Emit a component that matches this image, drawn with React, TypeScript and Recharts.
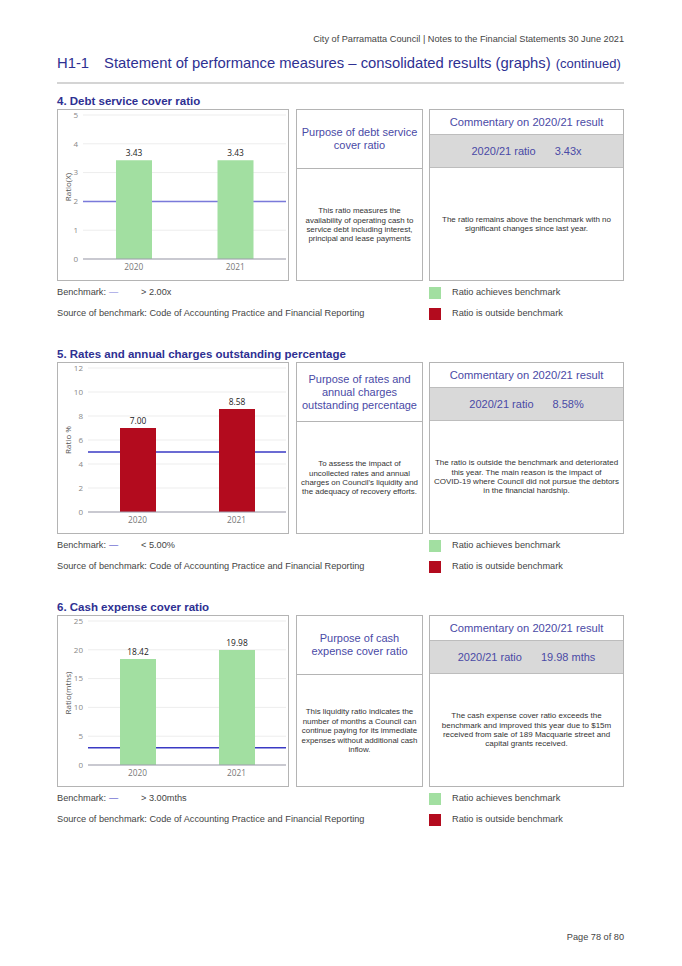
import React from 'react';
import { BarChart, Bar, XAxis, YAxis, CartesianGrid, LabelList } from 'recharts';

const years = ['2020', '2021'];

const debtServiceRatio = [3.43, 3.43];
const ratesOutstandingPct = [7.0, 8.58];
const cashExpenseMonths = [18.42, 19.98];

const debtTicks = [0, 1, 2, 3, 4, 5];
const ratesTicks = [0, 2, 4, 6, 8, 10, 12];
const cashTicks = [0, 5, 10, 15, 20, 25];

const debtBenchmark = 2;
const ratesBenchmark = 5;
const cashBenchmark = 3;

const GREEN = '#a2dfa1';
const RED = '#b30b1e';
const TITLE_BLUE = '#2e3092';
const SOFT_BLUE = '#4a4aa6';
const SANS = '"Liberation Sans", Arial, sans-serif';
const CHART_FONT = '"Open Sans", sans-serif';

const YLabel = (props: any) => {
  const { viewBox, text } = props;
  const x = viewBox.x + 9;
  const y = viewBox.y + viewBox.height / 2;
  return (
    <text
      x={x}
      y={y}
      transform={`rotate(-90 ${x} ${y})`}
      textAnchor="middle"
      dominantBaseline="central"
      fontSize={8}
      fill="#555"
      fontFamily={CHART_FONT}
    >
      {text}
    </text>
  );
};

type SectionProps = {
  top: number;
  title: string;
  values: number[];
  ticks: number[];
  benchmark: number;
  yLabel: string;
  yWidth: number;
  barColor: string;
  lineColor: string;
  purposeTitle: string[];
  purposeText: string[];
  ratioValue: string;
  commentText: string[];
  benchmarkText: string;
};

function Lines({ lines }: { lines: string[] }) {
  return (
    <>
      {lines.map((l, i) => (
        <div key={i}>{l}</div>
      ))}
    </>
  );
}

function Section(p: SectionProps) {
  const data = years.map((year, i) => ({ year, value: p.values[i] }));
  const boxBase: React.CSSProperties = {
    position: 'absolute',
    top: 16,
    height: 172,
    boxSizing: 'border-box',
    border: '1px solid #b4b4b4',
    background: '#fff',
  };
  const center: React.CSSProperties = {
    display: 'flex',
    flexDirection: 'column',
    alignItems: 'center',
    justifyContent: 'center',
    textAlign: 'center',
  };
  const legendText: React.CSSProperties = {
    position: 'absolute',
    fontSize: 9.2,
    lineHeight: '12px',
    color: '#444',
    whiteSpace: 'nowrap',
  };
  return (
    <div style={{ position: 'absolute', left: 0, top: p.top, width: 682, height: 240 }}>
      <div
        style={{
          position: 'absolute',
          left: 57,
          top: 0,
          height: 16,
          lineHeight: '16px',
          fontSize: 11.5,
          fontWeight: 'bold',
          color: TITLE_BLUE,
          whiteSpace: 'nowrap',
        }}
      >
        {p.title}
      </div>

      {/* chart box */}
      <div style={{ ...boxBase, left: 57, width: 232 }}>
        <BarChart width={230} height={170} data={data} margin={{ top: 5, right: 2, bottom: 3, left: 0 }}>
          <CartesianGrid vertical={false} stroke="#ededed" />
          {/* benchmark line drawn under the bars */}
          <CartesianGrid vertical={false} horizontalValues={[p.benchmark]} stroke={p.lineColor} strokeWidth={1.5} />
          <XAxis
            dataKey="year"
            height={18}
            tickLine={false}
            tickSize={0}
            tickMargin={5}
            axisLine={{ stroke: '#9c9cab' }}
            tick={{ fontSize: 8.3, fill: '#777', fontFamily: CHART_FONT }}
          />
          <YAxis
            width={p.yWidth}
            domain={[p.ticks[0], p.ticks[p.ticks.length - 1]]}
            ticks={p.ticks}
            interval={0}
            axisLine={false}
            tickLine={false}
            tickSize={0}
            tickMargin={5}
            tick={{ fontSize: 8, fill: '#888', fontFamily: CHART_FONT }}
            label={<YLabel text={p.yLabel} />}
          />
          <Bar dataKey="value" fill={p.barColor} barSize={36} isAnimationActive={false}>
            <LabelList
              dataKey="value"
              position="top"
              offset={4}
              formatter={(v: any) => Number(v).toFixed(2)}
              fontSize={8.4}
              fill="#222"
              fontFamily={CHART_FONT}
            />
          </Bar>
        </BarChart>
      </div>

      {/* purpose box */}
      <div style={{ ...boxBase, left: 296, width: 127 }}>
        <div
          style={{
            ...center,
            height: 58,
            borderBottom: '1px solid #b4b4b4',
            fontSize: 11,
            lineHeight: '13px',
            color: SOFT_BLUE,
          }}
        >
          <Lines lines={p.purposeTitle} />
        </div>
        <div style={{ ...center, height: 112, fontSize: 7.9, lineHeight: '9.4px', color: '#333' }}>
          <Lines lines={p.purposeText} />
        </div>
      </div>

      {/* commentary box */}
      <div style={{ ...boxBase, left: 429, width: 195 }}>
        <div style={{ ...center, height: 24, fontSize: 11.2, color: SOFT_BLUE }}>Commentary on 2020/21 result</div>
        <div
          style={{
            ...center,
            flexDirection: 'row',
            height: 34,
            background: '#d9d9d9',
            borderTop: '1px solid #bdbdbd',
            borderBottom: '1px solid #bdbdbd',
            boxSizing: 'border-box',
            fontSize: 11,
            color: SOFT_BLUE,
          }}
        >
          <span>2020/21 ratio</span>
          <span style={{ marginLeft: 19 }}>{p.ratioValue}</span>
        </div>
        <div style={{ ...center, height: 112, fontSize: 8, lineHeight: '9.4px', color: '#333' }}>
          <Lines lines={p.commentText} />
        </div>
      </div>

      {/* legend rows */}
      <div style={{ ...legendText, left: 57, top: 193 }}>Benchmark:</div>
      <div style={{ ...legendText, left: 109, top: 193, color: p.lineColor }}>—</div>
      <div style={{ ...legendText, left: 141, top: 193 }}>{p.benchmarkText}</div>
      <div style={{ ...legendText, left: 57, top: 214 }}>
        Source of benchmark: Code of Accounting Practice and Financial Reporting
      </div>
      <div style={{ position: 'absolute', left: 429, top: 194, width: 12, height: 12, background: GREEN }} />
      <div style={{ ...legendText, left: 452, top: 193 }}>Ratio achieves benchmark</div>
      <div style={{ position: 'absolute', left: 429, top: 215, width: 12, height: 12, background: RED }} />
      <div style={{ ...legendText, left: 452, top: 214 }}>Ratio is outside benchmark</div>
    </div>
  );
}

export default function App() {
  return (
    <div
      style={{
        position: 'absolute',
        left: 0,
        top: 0,
        width: 682,
        height: 966,
        background: '#fff',
        fontFamily: SANS,
        overflow: 'hidden',
      }}
    >
      <div style={{ position: 'absolute', right: 58, top: 34, fontSize: 9.2, color: '#444', whiteSpace: 'nowrap' }}>
        City of Parramatta Council | Notes to the Financial Statements 30 June 2021
      </div>
      <div style={{ position: 'absolute', left: 57, top: 55, fontSize: 14.8, color: TITLE_BLUE, whiteSpace: 'nowrap' }}>
        <span>H1-1</span>
        <span style={{ marginLeft: 15 }}>Statement of performance measures – consolidated results (graphs)</span>
        <span style={{ fontSize: 13, marginLeft: 5 }}>(continued)</span>
      </div>
      <div style={{ position: 'absolute', left: 57, top: 82, width: 567, height: 2, background: '#d4d4d4' }} />

      <Section
        top={93}
        title="4. Debt service cover ratio"
        values={debtServiceRatio}
        ticks={debtTicks}
        benchmark={debtBenchmark}
        yLabel="Ratio(X)"
        yWidth={25}
        barColor={GREEN}
        lineColor="#7a7ada"
        purposeTitle={['Purpose of debt service', 'cover ratio']}
        purposeText={[
          'This ratio measures the',
          'availability of operating cash to',
          'service debt including interest,',
          'principal and lease payments',
        ]}
        ratioValue="3.43x"
        commentText={['The ratio remains above the benchmark with no', 'significant changes since last year.']}
        benchmarkText="> 2.00x"
      />

      <Section
        top={346}
        title="5. Rates and annual charges outstanding percentage"
        values={ratesOutstandingPct}
        ticks={ratesTicks}
        benchmark={ratesBenchmark}
        yLabel="Ratio %"
        yWidth={30}
        barColor={RED}
        lineColor="#3a3ac4"
        purposeTitle={['Purpose of rates and', 'annual charges', 'outstanding percentage']}
        purposeText={[
          'To assess the impact of',
          'uncollected rates and annual',
          "charges on Council's liquidity and",
          'the adequacy of recovery efforts.',
        ]}
        ratioValue="8.58%"
        commentText={[
          'The ratio is outside the benchmark and deteriorated',
          'this year. The main reason is the impact of',
          'COVID-19 where Council did not pursue the debtors',
          'in the financial hardship.',
        ]}
        benchmarkText="< 5.00%"
      />

      <Section
        top={599}
        title="6. Cash expense cover ratio"
        values={cashExpenseMonths}
        ticks={cashTicks}
        benchmark={cashBenchmark}
        yLabel="Ratio(mths)"
        yWidth={30}
        barColor={GREEN}
        lineColor="#3a3ac4"
        purposeTitle={['Purpose of cash', 'expense cover ratio']}
        purposeText={[
          'This liquidity ratio indicates the',
          'number of months a Council can',
          'continue paying for its immediate',
          'expenses without additional cash',
          'inflow.',
        ]}
        ratioValue="19.98 mths"
        commentText={[
          'The cash expense cover ratio exceeds the',
          'benchmark and improved this year due to $15m',
          'received from sale of 189 Macquarie street and',
          'capital grants received.',
        ]}
        benchmarkText="> 3.00mths"
      />

      <div style={{ position: 'absolute', right: 58, top: 932, fontSize: 9.2, color: '#444', whiteSpace: 'nowrap' }}>
        Page 78 of 80
      </div>
    </div>
  );
}
